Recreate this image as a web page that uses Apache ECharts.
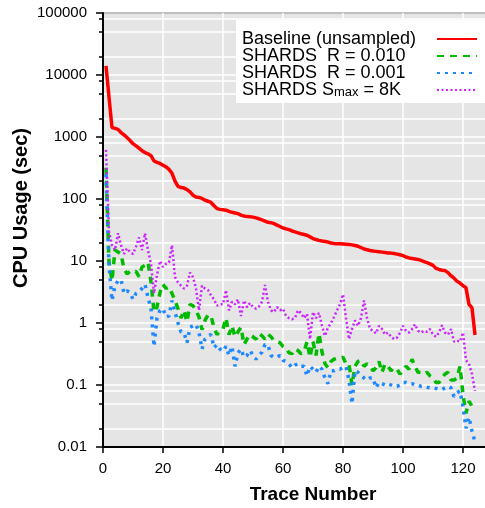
<!DOCTYPE html>
<html><head><meta charset="utf-8">
<script src="https://cdn.jsdelivr.net/npm/echarts@6/dist/echarts.min.js"></script>
<style>html,body{margin:0;padding:0;background:#fff}#c{width:485px;height:508px}</style>
</head><body><div id="c"></div>
<script>
const traceNumbers = [1,2,3,4,5,6,7,8,9,10,11,12,13,14,15,16,17,18,19,20,21,22,23,24,25,26,27,28,29,30,31,32,33,34,35,36,37,38,39,40,41,42,43,44,45,46,47,48,49,50,51,52,53,54,55,56,57,58,59,60,61,62,63,64,65,66,67,68,69,70,71,72,73,74,75,76,77,78,79,80,81,82,83,84,85,86,87,88,89,90,91,92,93,94,95,96,97,98,99,100,101,102,103,104,105,106,107,108,109,110,111,112,113,114,115,116,117,118,119,120,121,122,123,124];

const baseline = [14000,4400,1420,1380,1330,1180,1080,980,880,780,720,660,600,560,535,500,410,390,375,350,330,300,260,195,160,153,150,142,130,115,108,106,102,96,92,88,78,70,68,67,66,63,61,59.5,58,55,53,52,51.5,51,49.5,48,46,44,42,41.5,40,38,36,34,33,32,30.5,29.5,28.5,27.5,26.8,26,24.5,23,22.2,21.5,21,20.6,20.2,19.5,19.2,19,18.9,18.8,18.6,18.4,18.2,17.8,17.3,16.5,15.6,15.2,14.8,14.5,14.3,14.1,13.9,13.7,13.5,13.4,13.2,12.9,12.6,12.2,11.6,11.2,11,10.8,10.6,10.2,9.8,9.4,9.0,8.5,7.6,7.3,7.1,7.0,6.5,5.8,5.3,4.7,4.4,4.0,3.7,2.0,1.75,0.64];

const shardsR010 = [320,9.5,4.8,15,14,13,7.5,6.2,6.8,6.5,6.8,5.6,8,8.5,9.5,4.6,1.5,1.8,3.1,4.2,3.6,3.8,3.0,2.3,1.7,1.2,1.6,1.05,2.0,1.9,1.6,1.25,0.78,1.1,1.35,1.3,0.85,0.65,0.75,0.8,1.2,0.65,0.9,0.6,0.72,0.85,0.45,0.55,0.65,0.6,0.55,0.68,0.62,0.55,0.66,0.6,0.52,0.5,0.48,0.42,0.4,0.33,0.32,0.38,0.36,0.32,0.34,0.5,0.28,0.5,0.3,0.68,0.34,0.22,0.19,0.24,0.26,0.27,0.27,0.28,0.22,0.22,0.1,0.2,0.24,0.25,0.2,0.22,0.2,0.17,0.19,0.24,0.16,0.22,0.2,0.17,0.19,0.18,0.15,0.17,0.2,0.18,0.26,0.2,0.16,0.16,0.15,0.16,0.14,0.13,0.11,0.11,0.13,0.15,0.16,0.12,0.12,0.13,0.2,0.07,0.035,0.055,0.045,0.04];

const shardsR001 = [250,8.5,2.3,4.0,4.8,5.0,3.0,3.3,3.1,2.4,3.0,3.2,3.6,4.2,2.6,1.7,0.42,1.2,1.6,1.7,1.25,1.3,2.3,1.5,1.0,0.72,0.7,0.48,0.85,0.9,0.95,0.7,0.38,0.55,0.62,0.65,0.4,0.45,0.38,0.35,0.42,0.3,0.42,0.2,0.33,0.38,0.28,0.3,0.36,0.3,0.26,0.3,0.34,0.45,0.44,0.3,0.28,0.28,0.3,0.25,0.24,0.22,0.19,0.21,0.22,0.2,0.2,0.14,0.2,0.18,0.16,0.2,0.18,0.13,0.105,0.17,0.17,0.18,0.18,0.19,0.2,0.12,0.05,0.17,0.16,0.14,0.13,0.12,0.13,0.13,0.09,0.11,0.105,0.1,0.105,0.1,0.095,0.095,0.1,0.11,0.11,0.105,0.105,0.1,0.1,0.095,0.095,0.092,0.09,0.09,0.088,0.085,0.085,0.09,0.095,0.09,0.065,0.075,0.08,0.045,0.02,0.03,0.018,0.012];

const shardsSmax8K = [620,30,18,15,28,18,13,16,14,13,17,24,15,28,15,9,3,6,10,8,9,9.5,18,5.5,4.5,4,3.6,4,6.5,5.5,3.6,1.6,4,3.6,3.4,2.8,2.4,1.9,2.0,2.0,3.4,1.6,2.2,2.0,2.4,1.3,2.3,1.8,2.1,1.8,1.7,1.85,2.2,4.1,2.2,1.6,1.5,1.8,1.6,1.7,1.3,1.2,1.15,1.2,1.6,1.45,1.2,1.4,0.55,1.5,1.2,1.45,0.9,0.62,0.85,1.0,1.25,1.6,2.0,2.9,1.2,0.55,0.8,1.1,0.9,1.2,2.3,1.2,0.8,0.75,0.68,0.9,0.8,0.65,0.7,0.6,0.55,0.58,0.7,0.9,0.75,0.7,0.8,0.95,0.75,0.7,0.75,0.72,0.8,0.65,0.6,0.7,0.92,0.7,0.65,0.8,0.5,0.52,0.5,0.7,0.25,0.22,0.15,0.08];

const seriesNames = ['Baseline (unsampled)', 'SHARDS  R = 0.010', 'SHARDS  R = 0.001', 'SHARDS Smax = 8K'];
const yTickLabels = ['0.01','0.1','1','10','100','1000','10000','100000'];
const yMinorTicks = [0.02,0.05,0.08,0.2,0.5,0.8,2,5,8,20,50,80,200,500,800,2000,5000,8000,20000,50000,80000];

const FONT = '"Liberation Sans", Arial, Helvetica, sans-serif';
const pairs = arr => traceNumbers.map((x, i) => [x, arr[i]]);

const chart = echarts.init(document.getElementById('c'), null, {renderer: 'canvas'});
chart.setOption({
  animation: false,
  backgroundColor: '#fff',
  grid: {left: 103, top: 13, width: 420, height: 434, outerBoundsMode: 'none', containLabel: false,
    show: true, backgroundColor: '#e5e5e5', borderColor: '#000', borderWidth: 2},
  legend: {
    orient: 'vertical', left: 236, top: 20, align: 'right',
    itemWidth: 40, itemHeight: 14, itemGap: -1,
    padding: [10, 8, 4, 6], backgroundColor: '#fff', selectedMode: false,
    itemStyle: {color: 'rgba(0,0,0,0)', borderWidth: 0, borderColor: 'rgba(0,0,0,0)'},
    data: seriesNames,
    formatter: n => n === seriesNames[3] ? '{t|SHARDS S}{sub|max}{t| = 8K}' : '{t|' + n + '}',
    textStyle: {fontFamily: FONT, fontSize: 18, color: '#000', width: 190, lineHeight: 15,
      rich: {
        t: {fontFamily: FONT, fontSize: 18, color: '#000', lineHeight: 15, align: 'left'},
        sub: {fontFamily: FONT, fontSize: 13, color: '#000', lineHeight: 12, padding: [5, 0, 0, 0], align: 'left'}
      }}
  },
  xAxis: {
    type: 'value', min: 0, max: 140, interval: 20,
    name: 'Trace Number', nameLocation: 'middle', nameGap: 38, nameMoveOverlap: false,
    nameTextStyle: {fontFamily: FONT, fontSize: 19, fontWeight: 'bold', color: '#000'},
    axisLine: {lineStyle: {color: '#000', width: 2}},
    axisTick: {length: 6, lineStyle: {color: '#000', width: 1.5}},
    axisLabel: {fontFamily: FONT, fontSize: 15, color: '#000', margin: 14},
    splitLine: {lineStyle: {color: '#fff', width: 1.5}}
  },
  yAxis: [{
    type: 'log', logBase: 10, min: 0.01, max: 100000,
    name: 'CPU Usage (sec)', nameLocation: 'middle', nameGap: 72, nameMoveOverlap: false,
    nameTextStyle: {fontFamily: FONT, fontSize: 20, fontWeight: 'bold', color: '#000', padding: [0, 0, 0, 44]},
    axisLine: {lineStyle: {color: '#000', width: 2}},
    axisTick: {length: 7, lineStyle: {color: '#000', width: 1.5}},
    axisLabel: {fontFamily: FONT, fontSize: 15, color: '#000', margin: 16,
      formatter: v => yTickLabels[Math.round(Math.log10(v)) + 2]},
    splitLine: {lineStyle: {color: '#fff', width: 1.5}}
  }, {
    type: 'log', logBase: 10, min: 0.01, max: 100000, position: 'left',
    axisLine: {show: false}, axisLabel: {show: false},
    axisTick: {customValues: yMinorTicks, length: 4, lineStyle: {color: '#000', width: 1.5}},
    splitLine: {show: true, lineStyle: {color: '#fff', width: 1.5}}
  }],
  series: [
    {name: seriesNames[0], type: 'line', data: pairs(baseline), symbol: 'none', lineStyle: {color: '#ff0000', width: 3.5}, itemStyle: {color: '#ff0000'}},
    {name: seriesNames[1], type: 'line', data: pairs(shardsR010), symbol: 'none', lineStyle: {color: '#00bb00', width: 3.5, type: [7, 6]}, itemStyle: {color: '#00bb00'}},
    {name: seriesNames[2], type: 'line', data: pairs(shardsR001), symbol: 'none', lineStyle: {color: '#1e88ff', width: 3.5, type: [3, 5]}, itemStyle: {color: '#1e88ff'}},
    {name: seriesNames[3], type: 'line', data: pairs(shardsSmax8K), symbol: 'none', lineStyle: {color: '#cc22ff', width: 2.5, type: [2, 2.5]}, itemStyle: {color: '#cc22ff'}}
  ]
});
</script></body></html>
